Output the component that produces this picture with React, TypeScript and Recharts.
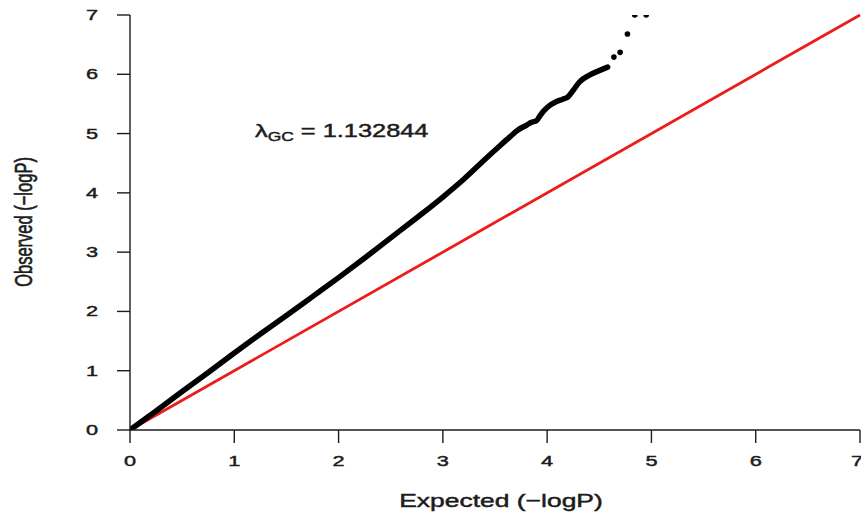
import React from "react";
import { ComposedChart, Line, Scatter, XAxis, YAxis, ReferenceLine } from "recharts";

// QQ plot: dense part of the observed vs expected -log10(P) curve
const expected = [
  0, 0.25, 0.5, 0.75, 1.0, 1.25, 1.5, 1.75, 2.0, 2.25, 2.5, 2.75, 3.0, 3.2, 3.4,
  3.55, 3.64, 3.72, 3.8, 3.85, 3.9, 3.93, 4.0, 4.09, 4.15, 4.2, 4.25, 4.31, 4.41,
  4.51, 4.58,
];
const observed = [
  0, 0.32, 0.65, 0.97, 1.3, 1.62, 1.93, 2.25, 2.57, 2.9, 3.24, 3.58, 3.93, 4.23, 4.56,
  4.8, 4.94, 5.06, 5.14, 5.19, 5.22, 5.3, 5.44, 5.54, 5.58, 5.62, 5.73, 5.87, 5.99,
  6.07, 6.12,
];

// the few sparse top hits (last two sit on the 7 ceiling)
const tailExpected = [4.64, 4.7, 4.77, 4.84, 4.95];
const tailObserved = [6.29, 6.37, 6.68, 7.0, 7.0];

const axisTicks = [0, 1, 2, 3, 4, 5, 6, 7];
const lambdaGC = "1.132844";

const curve = expected.map((ex, i) => ({ ex, ob: observed[i] }));
const tail = tailExpected.map((ex, i) => ({ ex, ob: tailObserved[i] }));

const FONT = "'Liberation Sans', Arial, Helvetica, sans-serif";
const INK = "#1c1c1c";
const STRETCH = 1.45;
const HEAVY = { stroke: INK, strokeWidth: 0.45 };

const XTick = (props: any) => {
  const { x, y, payload } = props;
  return (
    <text transform={`translate(${x},${y + 23}) scale(${STRETCH},1)`} textAnchor="middle"
      fontFamily={FONT} fontSize={15} fill={INK} {...HEAVY}>
      {payload.value}
    </text>
  );
};

const YTick = (props: any) => {
  const { x, y, payload } = props;
  return (
    <text transform={`translate(${x},${y + 5}) scale(${STRETCH},1)`} textAnchor="end"
      fontFamily={FONT} fontSize={15} fill={INK} {...HEAVY}>
      {payload.value}
    </text>
  );
};

export default function App() {
  return (
    <div style={{ position: "absolute", left: 0, top: 0, width: 861, height: 512, background: "#fff" }}>
      <ComposedChart width={861} height={512} data={curve}
        margin={{ top: 15, right: 1, bottom: 40, left: 60 }}>
        <XAxis dataKey="ex" type="number" domain={[0, 7]} ticks={axisTicks} allowDataOverflow
          height={42} tickSize={13} tickMargin={0} tick={<XTick />}
          stroke={INK} strokeWidth={1.4} />
        <YAxis dataKey="ob" type="number" domain={[0, 7]} ticks={axisTicks} allowDataOverflow
          width={70} tickSize={13} tickMargin={19} tick={<YTick />}
          stroke={INK} strokeWidth={1.4} />
        <ReferenceLine segment={[{ x: 0, y: 0 }, { x: 7, y: 7 }]} stroke="#ec1c1c" strokeWidth={2.8} />
        <Line dataKey="ob" type="monotone" stroke="#000" strokeWidth={5.5} strokeLinecap="round"
          strokeLinejoin="round" dot={false} activeDot={false} isAnimationActive={false} />
        <Scatter data={tail} dataKey="ob" fill="#000" isAnimationActive={false}
          shape={(p: any) => <circle cx={p.cx} cy={p.cy} r={2.8} fill="#000" />} />
      </ComposedChart>
      <svg width={861} height={512} style={{ position: "absolute", left: 0, top: 0, pointerEvents: "none" }}>
        <text transform={`translate(255,137) scale(${STRETCH},1)`} fontFamily={FONT} fontSize={17.5}
          fill={INK} {...HEAVY}>
          λ<tspan dy={4} fontSize={12}>GC</tspan><tspan dy={-4}> = {lambdaGC}</tspan>
        </text>
        <text transform={`translate(501,507) scale(1.43,1)`} textAnchor="middle" fontFamily={FONT}
          fontSize={18.5} fill={INK} {...HEAVY}>
          Expected (−logP)
        </text>
        <text transform={`translate(23,222) scale(${STRETCH},1) rotate(-90)`} textAnchor="middle"
          dominantBaseline="central" fontFamily={FONT} fontSize={16.5} fill={INK} {...HEAVY}>
          Observed (−logP)
        </text>
      </svg>
    </div>
  );
}
